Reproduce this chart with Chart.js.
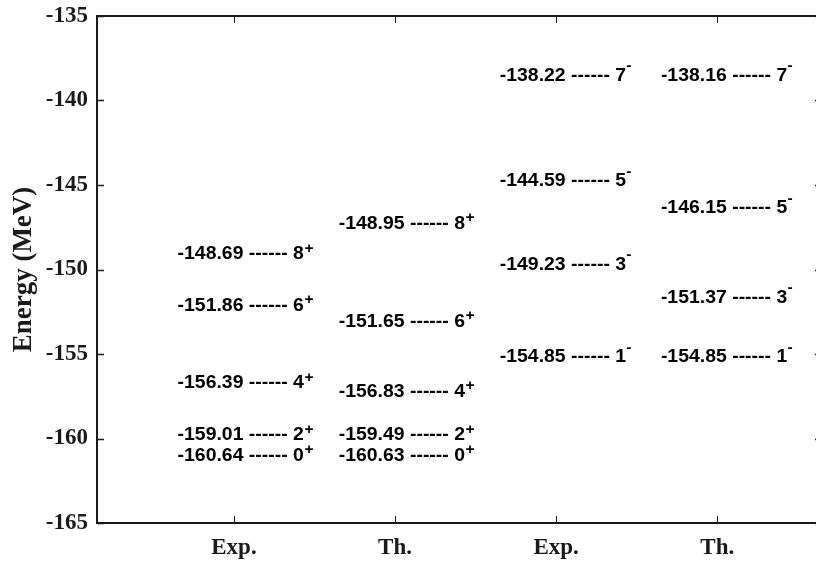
<!DOCTYPE html>
<html>
<head>
<meta charset="utf-8">
<title>Energy levels</title>
<script src="https://cdn.jsdelivr.net/npm/chart.js@4"></script>
<style>
  html, body { margin: 0; padding: 0; background: #fff; overflow: hidden; }
</style>
</head>
<body>
<canvas id="myChart" width="830" height="563"></canvas>
<script>
// columns along the x axis
const columns = ['Exp.', 'Th.', 'Exp.', 'Th.'];

// positive parity band (MeV)
const posSpins = ['0', '2', '4', '6', '8'];
const expPos = [-160.64, -159.01, -156.39, -151.86, -148.69];
const thPos = [-160.63, -159.49, -156.83, -151.65, -148.95];

// negative parity band (MeV)
const negSpins = ['1', '3', '5', '7'];
const expNeg = [-154.85, -149.23, -144.59, -138.22];
const thNeg = [-154.85, -151.37, -146.15, -138.16];

// energy at which each label sits in the figure (labels were nudged apart)
const expPosAt = [-160.96, -159.73, -156.66, -152.08, -149.02];
const thPosAt = [-160.96, -159.73, -157.15, -153.01, -147.20];
const expNegAt = [-155.10, -149.63, -144.70, -138.46];
const thNegAt = [-155.10, -151.59, -146.28, -138.46];

const yTicks = [-165, -160, -155, -150, -145, -140, -135];

function makeSet(col, values, at, spins, parity) {
    return {
        data: at.map(y => ({x: col, y: y})),
        values: values,
        spins: spins,
        parity: parity,
        pointRadius: 0,
        showLine: false
    };
}

const ink = '#1a1a1a';

// draws the frame, inward ticks and the level labels
const levelPlugin = {
    id: 'levels',
    afterDatasetsDraw(chart) {
        const ctx = chart.ctx;
        const a = chart.chartArea;
        const xs = chart.scales.x;
        const ys = chart.scales.y;
        ctx.save();
        ctx.strokeStyle = ink;

        ctx.lineWidth = 1.5;
        ys.ticks.forEach(t => {
            const y = Math.round(ys.getPixelForValue(t.value)) + 0.5;
            ctx.beginPath();
            ctx.moveTo(a.left, y); ctx.lineTo(a.left + 7, y);
            ctx.moveTo(a.right, y); ctx.lineTo(a.right - 7, y);
            ctx.stroke();
        });
        ctx.lineWidth = 1;
        xs.ticks.forEach(t => {
            const x = Math.round(xs.getPixelForValue(t.value)) + 0.5;
            ctx.beginPath();
            ctx.moveTo(x, a.bottom); ctx.lineTo(x, a.bottom - 7);
            ctx.moveTo(x, a.top); ctx.lineTo(x, a.top + 7);
            ctx.stroke();
        });

        ctx.lineWidth = 2;
        ctx.strokeRect(a.left, a.top, a.right - a.left, a.bottom - a.top);

        const fs = 17.5, sup = 14, sx = 1.11;
        ctx.fillStyle = '#000';
        ctx.textBaseline = 'alphabetic';
        ctx.textAlign = 'left';
        chart.data.datasets.forEach(ds => {
            ds.data.forEach((p, i) => {
                const x = xs.getPixelForValue(p.x - 0.35);
                const yc = ys.getPixelForValue(p.y);
                const main = ds.values[i].toFixed(2) + ' ------ ' + ds.spins[i];
                ctx.save();
                ctx.translate(x, yc + 0.365 * fs);
                ctx.scale(sx, 1);
                ctx.font = 'bold ' + fs + 'px "Liberation Sans", Arial, sans-serif';
                const w = ctx.measureText(main).width;
                ctx.fillText(main, 0, 0);
                ctx.font = 'bold ' + sup + 'px "Liberation Sans", Arial, sans-serif';
                if (ds.parity === '+') {
                    ctx.fillText('+', w + 0.5, -6.8);
                } else {
                    ctx.fillText('-', w + 0.2, -10.5);
                }
                ctx.restore();
            });
        });
        ctx.restore();
    }
};

const ctx = document.getElementById('myChart').getContext('2d');
const myChart = new Chart(ctx, {
    type: 'scatter',
    data: {
        datasets: [
            makeSet(1, expPos, expPosAt, posSpins, '+'),
            makeSet(2, thPos, thPosAt, posSpins, '+'),
            makeSet(3, expNeg, expNegAt, negSpins, '-'),
            makeSet(4, thNeg, thNegAt, negSpins, '-')
        ]
    },
    options: {
        responsive: false,
        animation: false,
        layout: { padding: { top: 16, right: 8, left: 0, bottom: 0 } },
        plugins: {
            legend: { display: false },
            tooltip: { enabled: false }
        },
        scales: {
            x: {
                type: 'linear',
                position: 'bottom',
                min: 0.15,
                max: 4.65,
                afterBuildTicks: s => { s.ticks = columns.map((c, i) => ({value: i + 1})); },
                afterFit: s => { s.height = 40; s.paddingLeft = 0; s.paddingRight = 0; },
                grid: { display: false, drawTicks: false },
                border: { display: false },
                ticks: {
                    autoSkip: false,
                    maxRotation: 0,
                    padding: 11,
                    color: ink,
                    font: { family: '"Liberation Serif", "Times New Roman", serif', size: 23, weight: 'bold' },
                    callback: v => columns[v - 1]
                }
            },
            y: {
                type: 'linear',
                min: -165,
                max: -135,
                afterBuildTicks: s => { s.ticks = yTicks.map(v => ({value: v})); },
                afterFit: s => { s.width = 97; s.paddingTop = 0; s.paddingBottom = 0; },
                grid: { display: false, drawTicks: false },
                border: { display: false },
                ticks: {
                    padding: 9,
                    color: ink,
                    font: { family: '"Liberation Serif", "Times New Roman", serif', size: 23, weight: 'bold' }
                },
                title: {
                    display: true,
                    text: 'Energy (MeV)',
                    color: ink,
                    padding: { top: 8, bottom: 0 },
                    font: { family: '"Liberation Serif", "Times New Roman", serif', size: 27, weight: 'bold' }
                }
            }
        }
    },
    plugins: [levelPlugin]
});
</script>
</body>
</html>
